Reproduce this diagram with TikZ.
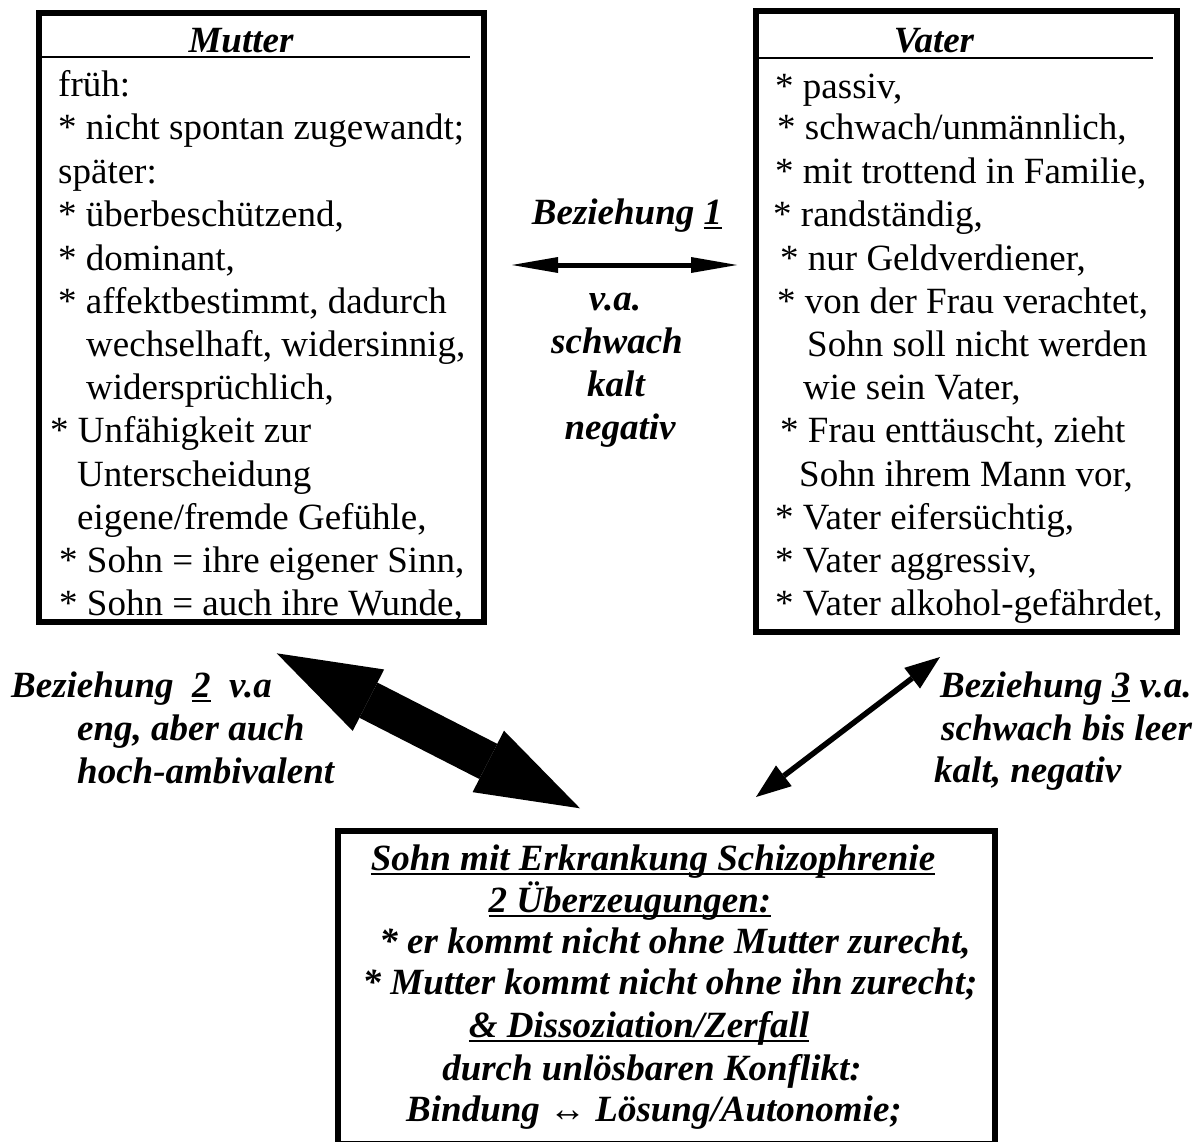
\documentclass[tikz,border=0pt]{standalone}
\usepackage{fontspec}
\setmainfont{Liberation Serif}
\usetikzlibrary{arrows.meta}
\newsavebox\ulbox
\newcommand\myul[1]{\sbox\ulbox{#1}\rlap{\rule[-5pt]{\wd\ulbox}{2pt}}\usebox\ulbox}
\newcommand\fsz{\fontsize{37}{43}\selectfont}
\begin{document}
\begin{tikzpicture}[x=1pt,y=-1pt,
  frame/.style={draw, line width=6.5pt, rectangle, inner sep=0pt},
  ln/.style={anchor=base west, inner sep=0pt, font=\fsz},
  bw/.style={anchor=base west, inner sep=0pt, font=\fsz\bfseries\itshape},
  bc/.style={anchor=base, inner sep=0pt, font=\fsz\bfseries\itshape},
  rule/.style={line width=2pt},
  relone/.style={line width=5pt, {Triangle[length=46pt,width=16pt,line width=0pt]}-{Triangle[length=46pt,width=16pt,line width=0pt]}},
  reltwo/.style={line width=39.5pt, {Triangle[length=103pt,width=69pt,line width=0pt]}-{Triangle[length=103pt,width=69pt,line width=0pt]}},
  relthree/.style={line width=5.5pt, {Triangle[length=35pt,width=26pt,line width=0pt]}-{Triangle[length=35pt,width=26pt,line width=0pt]}}
]
\fill[white] (0,0) rectangle (1201,1142);
\useasboundingbox (0,0) rectangle (1201,1142);

% boxes
\node[frame, minimum width=445pt, minimum height=609pt] (mutter) at (261.5,317.5) {};
\node[frame, minimum width=421pt, minimum height=621pt] (vater) at (966.5,321.5) {};
\node[frame, minimum width=657pt, minimum height=313pt] (sohn) at (666.5,987.5) {};

% Mutter
\node[bc] (mt) at (241,53) {Mutter};
\coordinate (mra) at (42,57);
\coordinate (mrb) at (470,57);
\draw[rule] (mra) -- (mrb);
\node[ln] (m1) at (58,97) {früh:};
\node[ln] (m2) at (58,140) {* nicht spontan zugewandt;};
\node[ln] (m3) at (58,183) {später:};
\node[ln] (m4) at (58,226) {* überbeschützend,};
\node[ln] (m5) at (58,270) {* dominant,};
\node[ln] (m6) at (58,313) {* affektbestimmt, dadurch};
\node[ln] (m7) at (86,356) {wechselhaft, widersinnig,};
\node[ln] (m8) at (86,399) {widersprüchlich,};
\node[ln] (m9) at (50,442) {* Unfähigkeit zur};
\node[ln] (m10) at (77,486) {Unterscheidung};
\node[ln] (m11) at (77,529) {eigene/fremde Gefühle,};
\node[ln] (m12) at (59,572) {* Sohn = ihre eigener Sinn,};
\node[ln] (m13) at (59,615) {* Sohn = auch ihre Wunde,};

% Vater
\node[bc] (vt) at (934,53) {Vater};
\coordinate (vra) at (757,58);
\coordinate (vrb) at (1153,58);
\draw[rule] (vra) -- (vrb);
\node[ln] (v1) at (775,99) {* passiv,};
\node[ln] (v2) at (777,140) {* schwach/unmännlich,};
\node[ln] (v3) at (775,183) {* mit trottend in Familie,};
\node[ln] (v4) at (773,226) {* randständig,};
\node[ln] (v5) at (780,270) {* nur Geldverdiener,};
\node[ln] (v6) at (777,313) {* von der Frau verachtet,};
\node[ln] (v7) at (807,356) {Sohn soll nicht werden};
\node[ln] (v8) at (803,399) {wie sein Vater,};
\node[ln] (v9) at (780,442) {* Frau enttäuscht, zieht};
\node[ln] (v10) at (799,486) {Sohn ihrem Mann vor,};
\node[ln] (v11) at (775,529) {* Vater eifersüchtig,};
\node[ln] (v12) at (775,572) {* Vater aggressiv,};
\node[ln] (v13) at (775,615) {* Vater alkohol-gefährdet,};

% Beziehung 1
\node[bc] (b1) at (627,224) {Beziehung \myul{1}};
\coordinate (a1l) at (512,265);
\coordinate (a1r) at (737,265);
\draw[relone] (a1l) -- (a1r);
\node[bc] (b1a) at (615,310) {v.a.};
\node[bc] (b1b) at (617,353) {schwach};
\node[bc] (b1c) at (616,396) {kalt};
\node[bc] (b1d) at (620,439) {negativ};

% Beziehung 2
\node[bw] (b2a) at (11,697) {Beziehung\ \ \myul{2}\ \ v.a};
\node[bw] (b2b) at (77,740) {eng, aber auch};
\node[bw] (b2c) at (77,783) {hoch-ambivalent};
\coordinate (a2m) at (276.7,653.3);
\coordinate (a2s) at (580,808.3);
\draw[reltwo] (a2m) -- (a2s);

% Beziehung 3
\node[bw] (b3a) at (940,697) {Beziehung \myul{3} v.a.};
\node[bw] (b3b) at (941,740) {schwach bis leer};
\node[bw] (b3c) at (934,782) {kalt, negativ};
\coordinate (a3v) at (940,657);
\coordinate (a3s) at (756,797);
\draw[relthree] (a3v) -- (a3s);

% Sohn
\node[bc] (s1) at (653,870) {\myul{Sohn mit Erkrankung Schizophrenie}};
\node[bc] (s2) at (630,912) {\myul{2 Überzeugungen:}};
\node[bc] (s3) at (675,953) {* er kommt nicht ohne Mutter zurecht,};
\node[bc] (s4) at (670,994) {* Mutter kommt nicht ohne ihn zurecht;};
\node[bc] (s5) at (639,1037) {\myul{\& Dissoziation/Zerfall}};
\node[bc] (s6) at (652,1080) {durch unlösbaren Konflikt:};
\node[bc] (s7) at (654,1121) {Bindung ↔ Lösung/Autonomie;};
\end{tikzpicture}
\end{document}
